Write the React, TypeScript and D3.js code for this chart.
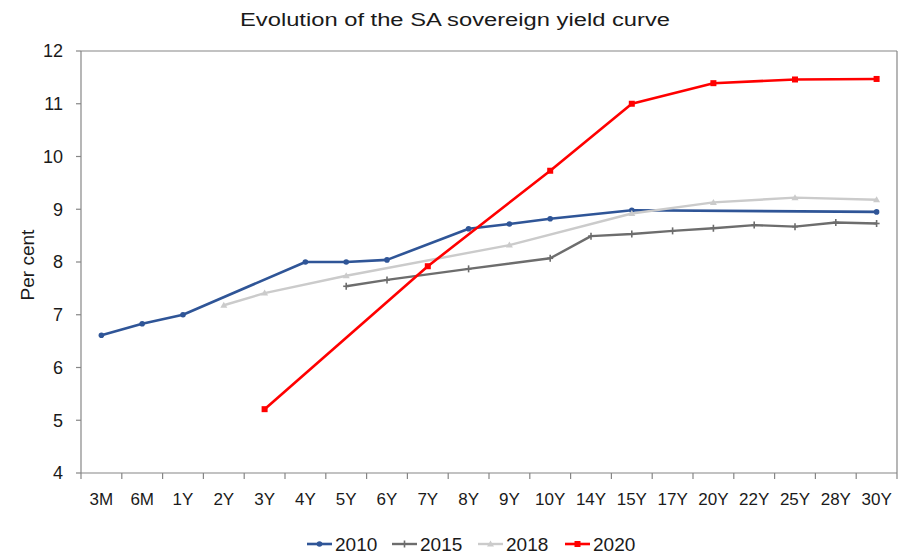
import React from "react";
import * as d3 from "d3";

const categories = ["3M","6M","1Y","2Y","3Y","4Y","5Y","6Y","7Y","8Y","9Y","10Y","14Y","15Y","17Y","20Y","22Y","25Y","28Y","30Y"];
const s2010 = [6.61,6.83,7.0,null,null,8.0,8.0,8.04,null,8.63,8.72,8.82,null,8.98,null,null,null,null,null,8.95];
const s2015 = [null,null,null,null,null,null,7.54,7.66,null,7.87,null,8.07,8.49,8.53,8.59,8.64,8.70,8.67,8.75,8.73];
const s2018 = [null,null,null,7.18,7.41,null,7.74,null,null,null,8.32,null,null,8.92,null,9.13,null,9.22,null,9.18];
const s2020 = [null,null,null,null,5.21,null,null,null,7.92,null,null,9.73,null,11.0,null,11.39,null,11.46,null,11.47];
const yTicks = [4,5,6,7,8,9,10,11,12];
const seriesNames = ["2010","2015","2018","2020"];

const W = 904, H = 556;
const M = { left: 81, right: 897, top: 51, bottom: 473 };

const series = [
  { name: "2010", values: s2010, color: "#2F5597", marker: "circle", width: 2.6 },
  { name: "2015", values: s2015, color: "#6D6D6D", marker: "plus", width: 2.4 },
  { name: "2018", values: s2018, color: "#CBCBCB", marker: "triangle", width: 2.4 },
  { name: "2020", values: s2020, color: "#FF0000", marker: "square", width: 2.6 },
];

function Marker({ type, x, y, color }: { type: string; x: number; y: number; color: string }) {
  if (type === "circle") return <circle cx={x} cy={y} r={2.8} fill={color} />;
  if (type === "square") return <rect x={x - 3} y={y - 3} width={6} height={6} fill={color} />;
  if (type === "triangle") return <path d={`M${x},${y - 3.5}L${x + 3.5},${y + 2.5}L${x - 3.5},${y + 2.5}Z`} fill={color} />;
  return (
    <g stroke={color} strokeWidth={1.6}>
      <line x1={x - 3} x2={x + 3} y1={y} y2={y} />
      <line x1={x} x2={x} y1={y - 3.5} y2={y + 3.5} />
    </g>
  );
}

export default function App() {
  const x = d3.scaleBand<string>().domain(categories).range([M.left, M.right]).padding(0);
  const y = d3.scaleLinear().domain([4, 12]).range([M.bottom, M.top]);
  const cx = (c: string) => (x(c) as number) + x.bandwidth() / 2;
  const font = "'Liberation Sans', Arial, sans-serif";
  const axisColor = "#868686";
  const textColor = "#1a1a1a";

  const legendX = [307, 392, 478, 565];

  return (
    <svg width={W} height={H} style={{ position: "absolute", left: 0, top: 0, background: "#fff" }} fontFamily={font}>
      <text x={240} y={26} fontSize={18} fill={textColor} textLength={430} lengthAdjust="spacingAndGlyphs">Evolution of the SA sovereign yield curve</text>
      <line x1={M.left} x2={M.right} y1={M.top} y2={M.top} stroke={axisColor} strokeWidth={1.2} />
      <line x1={M.right} x2={M.right} y1={M.top} y2={M.bottom} stroke={axisColor} strokeWidth={1.2} />
      <line x1={M.left} x2={M.left} y1={M.top} y2={M.bottom} stroke={axisColor} strokeWidth={1.2} />
      <line x1={M.left} x2={M.right} y1={M.bottom} y2={M.bottom} stroke={axisColor} strokeWidth={1.2} />
      {yTicks.map((t) => (
        <g key={t}>
          <line x1={M.left - 5} x2={M.left} y1={y(t)} y2={y(t)} stroke={axisColor} strokeWidth={1.2} />
          <text x={63} y={y(t)} dy="0.36em" textAnchor="end" fontSize={18} fill={textColor}>{t}</text>
        </g>
      ))}
      {categories.map((c) => (
        <line key={"t" + c} x1={x(c) as number} x2={x(c) as number} y1={M.bottom} y2={M.bottom + 6} stroke={axisColor} strokeWidth={1.2} />
      ))}
      <line x1={M.right} x2={M.right} y1={M.bottom} y2={M.bottom + 6} stroke={axisColor} strokeWidth={1.2} />
      {categories.map((c) => (
        <text key={"l" + c} x={cx(c)} y={505} textAnchor="middle" fontSize={17} fill={textColor}>{c}</text>
      ))}
      <text transform={`translate(34,265) rotate(-90)`} textAnchor="middle" fontSize={19} fill={textColor}>Per cent</text>
      {series.map((s) => {
        const pts = categories
          .map((c, i) => ({ c, v: s.values[i] }))
          .filter((p) => p.v !== null) as { c: string; v: number }[];
        const line = d3.line<{ c: string; v: number }>().x((p) => cx(p.c)).y((p) => y(p.v));
        return (
          <g key={s.name}>
            <path d={line(pts) || ""} fill="none" stroke={s.color} strokeWidth={s.width} strokeLinejoin="round" />
            {pts.map((p) => (
              <Marker key={p.c} type={s.marker} x={cx(p.c)} y={y(p.v)} color={s.color} />
            ))}
          </g>
        );
      })}
      {series.map((s, i) => (
        <g key={"lg" + s.name}>
          <line x1={legendX[i]} x2={legendX[i] + 25} y1={544} y2={544} stroke={s.color} strokeWidth={s.width} />
          <Marker type={s.marker} x={legendX[i] + 12.5} y={544} color={s.color} />
          <text x={legendX[i] + 28} y={544} dy="0.36em" fontSize={19} fill={textColor}>{seriesNames[i]}</text>
        </g>
      ))}
    </svg>
  );
}
